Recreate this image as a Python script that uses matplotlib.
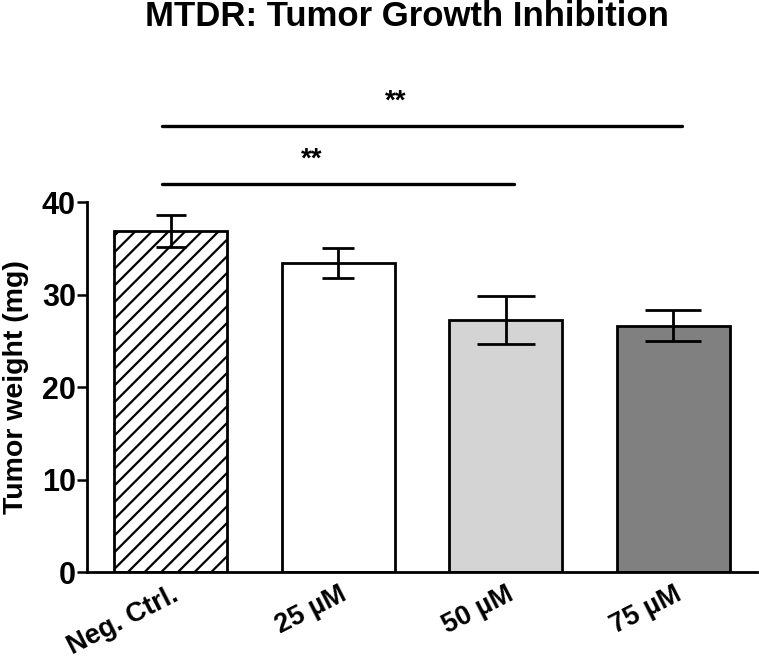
import matplotlib
matplotlib.use("Agg")
import matplotlib.pyplot as plt
import matplotlib.transforms as mtransforms
import numpy as np

categories = ["Neg. Ctrl.", "25 \u00b5M", "50 \u00b5M", "75 \u00b5M"]
means = [36.85, 33.42, 27.22, 26.63]
sems = [1.75, 1.65, 2.6, 1.65]
yticks = [0, 10, 20, 30, 40]
comparisons = [(0, 2, "**", 42.0, 44.6), (0, 3, "**", 48.2, 50.9)]

fills = ["white", "white", "#d4d4d4", "#808080"]
hatches = ["//", None, None, None]
capsizes = [11.0, 11.5, 21.0, 20.0]

plt.rcParams["font.family"] = ["Liberation Sans", "DejaVu Sans"]
plt.rcParams["hatch.linewidth"] = 1.6

fig = plt.figure(figsize=(7.59, 6.61), dpi=100)
ax = fig.add_axes([0.1146, 0.1346, 0.883, 0.5598])

x = np.arange(len(categories))
for i in range(len(categories)):
    ax.bar(x[i], means[i], width=0.675, color=fills[i], edgecolor="black",
           linewidth=2.0, hatch=hatches[i], zorder=2)
    ax.errorbar(x[i], means[i], yerr=sems[i], fmt="none", ecolor="black",
                elinewidth=2.0, capsize=capsizes[i], capthick=2.0, zorder=3)

ax.set_xlim(-0.5, 3.5)
ax.set_ylim(0, 40)
ax.set_yticks(yticks)
ax.set_yticklabels([str(t) for t in yticks], fontsize=22, fontweight="bold")
ax.tick_params(axis="y", length=7, width=1.8, pad=1, color="black")
ax.tick_params(axis="x", length=0, pad=7)
ax.set_xticks(x)
ax.set_xticklabels(categories, fontsize=19.5, fontweight="bold", rotation=27,
                   ha="right", va="top", rotation_mode="anchor")
offset = mtransforms.ScaledTranslation(0.5 / 100, 0, fig.dpi_scale_trans)
for lab in ax.get_xticklabels():
    lab.set_transform(lab.get_transform() + offset)

for s in ["top", "right"]:
    ax.spines[s].set_visible(False)
for s in ["left", "bottom"]:
    ax.spines[s].set_linewidth(2.0)

ax.set_ylabel("Tumor weight (mg)", fontsize=20.5, fontweight="bold", labelpad=9)

for a, b, txt, yl, ys in comparisons:
    ax.plot([a - 0.05, b + 0.05], [yl, yl], color="black", linewidth=2.4,
            solid_capstyle="round", clip_on=False)
    ax.text((a + b) / 2 - 0.16, ys, txt, ha="center", va="center",
            fontsize=20, fontweight="bold", clip_on=False)

fig.text(407 / 759, 1 - 16 / 661, "MTDR: Tumor Growth Inhibition",
         ha="center", va="center", fontsize=25, fontweight="bold")

fig.savefig("out.png", dpi=100)
